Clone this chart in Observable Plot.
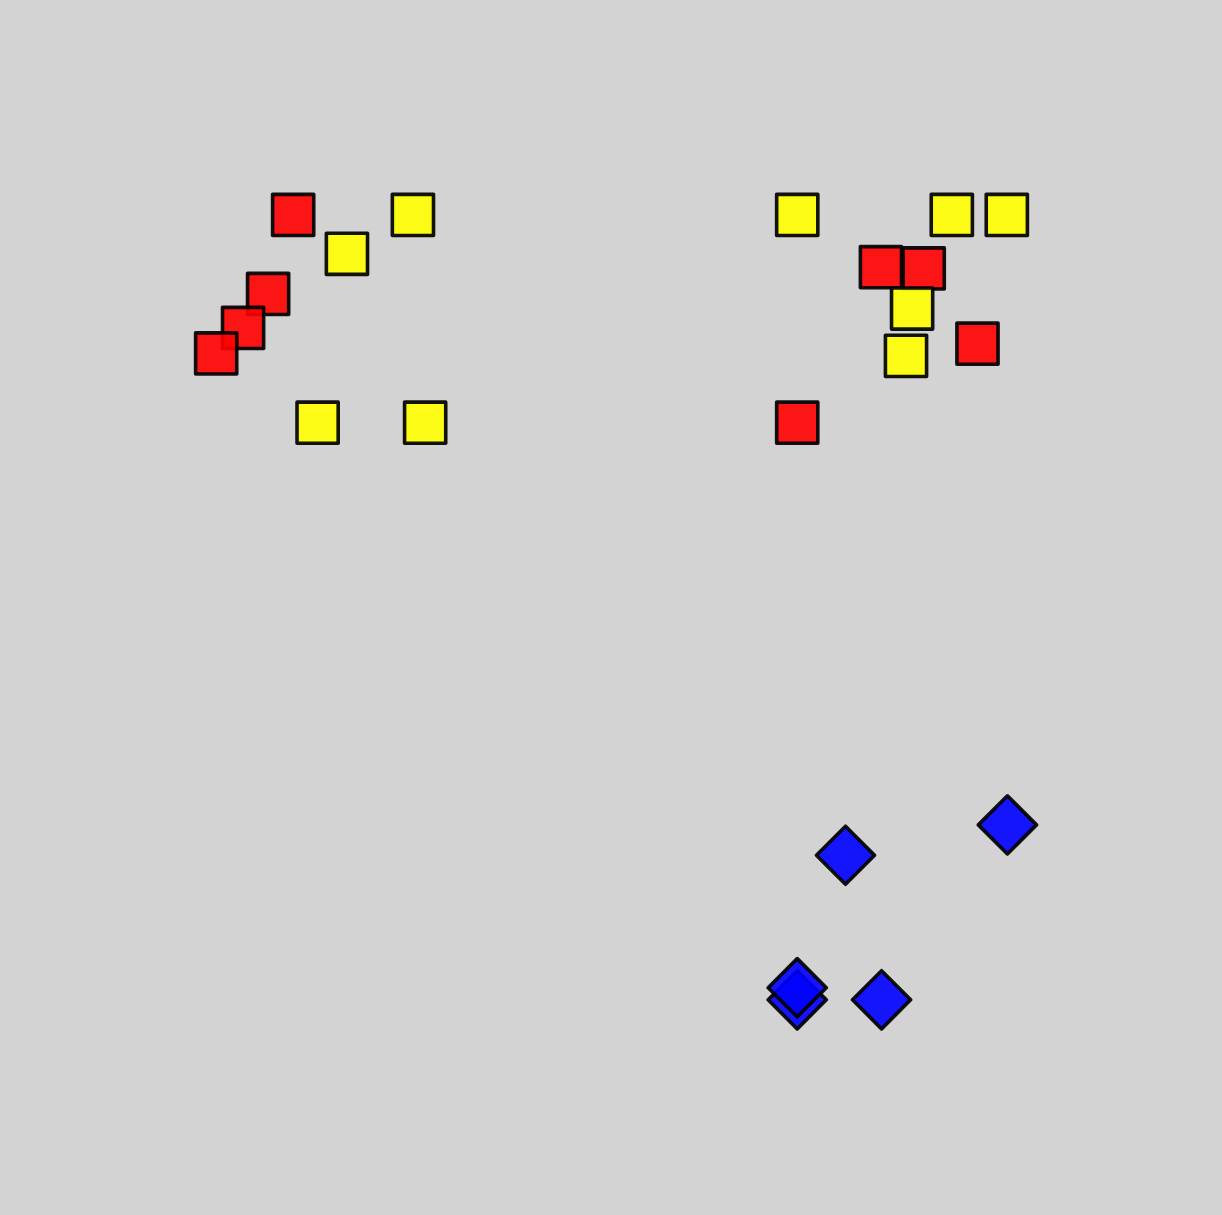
<!DOCTYPE html>
<html>
<head>
<meta charset="utf-8">
<script src="https://cdn.jsdelivr.net/npm/d3@7"></script>
<script src="https://cdn.jsdelivr.net/npm/@observablehq/plot@0.6"></script>
<style>
  html, body { margin: 0; padding: 0; background: #d3d3d3; }
  #chart svg { display: block; }
</style>
</head>
<body>
<div id="chart"></div>
<script>
// Red squares
const redX = [23.95, 21.9, 19.85, 17.65, 72.05, 75.55, 79.95, 65.2];
const redY = [82.35, 75.85, 73.05, 70.95, 78.05, 77.95, 71.75, 65.25];
// Yellow squares
const yellowX = [33.75, 28.35, 25.95, 34.75, 65.2, 77.85, 82.35, 74.6, 74.1];
const yellowY = [82.35, 79.15, 65.25, 65.25, 82.35, 82.35, 82.35, 74.65, 70.75];
// Blue diamonds
const blueX = [69.15, 82.4, 65.2, 65.2, 72.1];
const blueY = [29.65, 32.15, 17.75, 18.75, 17.75];

const toRows = (xs, ys) => xs.map((x, i) => ({x, y: ys[i]}));
const red = toRows(redX, redY);
const yellow = toRows(yellowX, yellowY);
const blue = toRows(blueX, blueY);

const common = {
  x: "x", y: "y", r: 26.2,
  stroke: "black", strokeWidth: 3.6, strokeOpacity: 0.92,
  fillOpacity: 0.9, strokeLinejoin: "round"
};

const chart = Plot.plot({
  width: 1222,
  height: 1215,
  margin: 0,
  x: {axis: null, domain: [0, 100]},
  y: {axis: null, domain: [0, 100]},
  style: {background: "#d3d3d3"},
  marks: [
    Plot.dot(red, {...common, symbol: "square2", fill: "red"}),
    Plot.dot(yellow, {...common, symbol: "square2", fill: "yellow"}),
    Plot.dot(blue, {...common, symbol: "diamond2", fill: "blue"})
  ]
});
document.getElementById("chart").appendChild(chart);
</script>
</body>
</html>
